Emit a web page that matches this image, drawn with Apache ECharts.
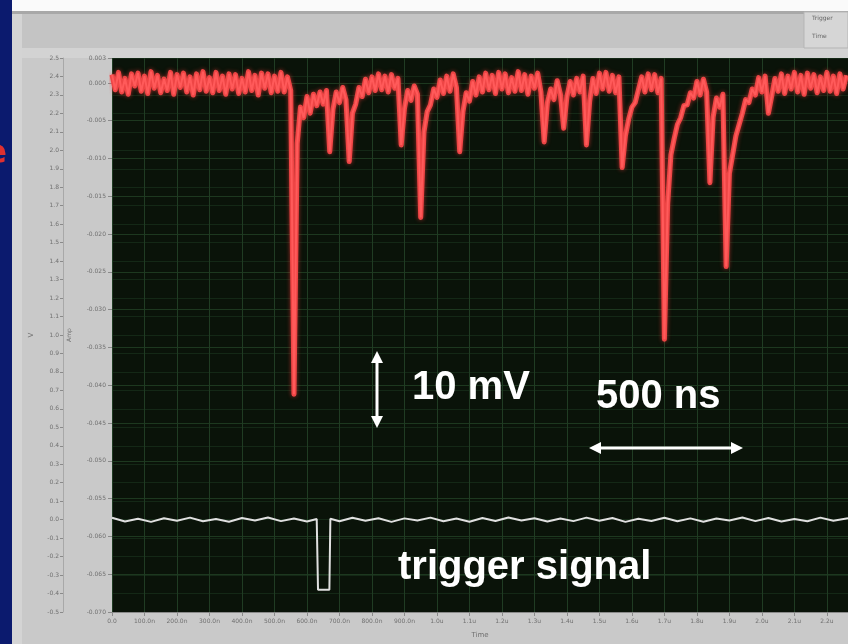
<!DOCTYPE html>
<html>
<head>
<meta charset="utf-8">
<script src="https://cdn.jsdelivr.net/npm/echarts@6/dist/echarts.min.js"></script>
<style>
html,body{margin:0;padding:0;background:#c9c9c9;}
#chart{width:848px;height:644px;}
</style>
</head>
<body>
<div id="chart"></div>
<script>
// ---- data ----
// sample spacing of the red (detector) trace, in ns
const SAMPLE_NS = 10;
// detector signal, mV, one value every SAMPLE_NS starting at 0 ns
const signalMv = [
  1.1, -0.9, 1.4, -1.2, 0.6, -1.5, 1.2, -0.4, 1.3, -1.1,
  0.9, -1.4, 1.5, -0.7, 1.0, -1.3, 0.5, -1.0, 1.4, -1.5,
  1.1, -0.6, 1.3, -1.2, 0.8, -1.6, 1.2, -0.9, 1.5, -1.1,
  0.7, -1.3, 1.4, -1.0, 0.9, -1.5, 1.2, -0.8, 1.1, -1.4,
  0.6, -1.2, 1.5, -1.0, 1.0, -1.6, 1.3, -0.7, 1.2, -1.3,
  0.9, -1.1, 1.4, -1.2, 0.8, -1.0, -41.2, -8.0, -3.2, -4.6,
  -1.8, -4.0, -1.5, -3.0, -1.2, -2.8, -1.0, -9.1, -3.5, -1.2,
  -2.6, -0.6, -2.2, -10.4, -4.0, -2.8, -0.6, -1.8, 0.5, -1.3,
  0.8, -1.0, 1.2, -0.9, 0.9, -1.2, 1.1, -0.7, 0.6, -8.2,
  -3.4, -1.0, -2.3, -0.4, -1.5, -17.8, -6.5, -3.8, -2.9, -0.8,
  -1.9, 0.4, -1.4, 0.9, -1.1, 1.2, -0.6, -9.1, -3.8, -1.3,
  -2.4, 0.2, -1.6, 0.8, -1.2, 1.3, -0.9, 1.0, -1.4, 1.4,
  -0.8, 1.2, -1.3, 0.7, -1.1, 1.5, -1.0, 1.1, -1.5, 0.9,
  -0.7, 1.3, -1.2, -7.8, -2.6, -0.8, -2.2, 0.3, -1.5, -6.0,
  -1.8, 0.2, -1.6, 0.6, -1.2, 0.9, -8.2, -2.4, 0.6, -1.4,
  1.3, -0.8, 1.4, -1.1, 1.0, -1.3, 0.8, -11.2, -7.0, -4.8,
  -3.2, -2.6, -0.9, 0.8, -1.2, 1.2, -0.9, 1.1, -1.3, 0.6,
  -33.9, -16.0, -9.5, -7.4, -5.5, -4.6, -3.0, -2.9, -1.3, -2.0,
  0.2, -1.6, 0.5, -1.2, -13.2, -4.5, -2.0, -3.2, -1.5, -24.3,
  -12.0, -9.5, -7.0, -5.5, -4.0, -2.2, -2.6, -0.8, -1.6, 0.7,
  -1.2, 0.9, -4.0, -1.8, 0.6, -1.1, 1.2, -1.4, 0.9, -0.8,
  1.4, -1.2, 1.0, -1.5, 1.3, -0.7, 1.1, -1.3, 0.8, -1.0,
  1.4, -1.1, 0.9, -1.4, 1.2, -0.8, 1.0
];
// trigger signal (left outer scale units)
const triggerNs = [0,40,80,120,160,200,240,280,320,360,400,440,480,520,560,600,
  630,634,669,672,700,740,780,820,860,900,940,980,1020,1060,1100,1140,1180,1220,
  1260,1300,1340,1380,1420,1460,1500,1540,1580,1620,1660,1700,1740,1780,1820,1860,
  1900,1940,1980,2020,2060,2100,2140,2180,2220,2265];
const triggerVal = [0.01,-0.01,0.005,-0.012,0.008,-0.006,0.011,-0.009,0.004,-0.011,
  0.009,-0.005,0.012,-0.008,0.006,-0.01,0.004,-0.38,-0.38,0.005,-0.009,0.01,-0.006,
  0.008,-0.012,0.007,-0.004,0.011,-0.009,0.006,-0.011,0.009,-0.007,0.012,-0.005,
  0.008,-0.01,0.006,-0.008,0.011,-0.006,0.009,-0.012,0.005,-0.007,0.01,-0.009,0.007,
  -0.011,0.006,-0.005,0.012,-0.008,0.009,-0.01,0.004,-0.009,0.011,-0.006,0.008];
// axis ranges
const timeMinNs = 0, timeMaxNs = 2265, timeStepNs = 100;
const ampMinMv = -70, ampMaxMv = 3.3, ampStepMv = 5;
const trigMin = -0.5, trigMax = 2.5, trigStep = 0.1;
const annotations = { amp: '10 mV', time: '500 ns', trig: 'trigger signal' };

// ---- build ----
const signalData = signalMv.map((v, i) => [i * SAMPLE_NS, v]);
const triggerData = triggerNs.map((t, i) => [t, triggerVal[i]]);

function timeLabel(v) {
  if (v === 0) return '0.0';
  if (v < 1000) return v.toFixed(1) + 'n';
  return (v / 1000).toFixed(1) + 'u';
}

const chart = echarts.init(document.getElementById('chart'), null, { renderer: 'canvas' });
const lblColor = '#707070';
const option = {
  animation: false,
  backgroundColor: '#c9c9c9',
  grid: { left: 112, right: 0, top: 58, bottom: 31, show: true, backgroundColor: '#0a1309', borderWidth: 0 },
  xAxis: {
    type: 'value', min: timeMinNs, max: timeMaxNs, interval: timeStepNs,
    name: 'Time', nameLocation: 'middle', nameGap: 20,
    nameTextStyle: { fontSize: 7, color: lblColor, fontFamily: 'DejaVu Sans' },
    axisLine: { onZero: false, lineStyle: { color: '#8a8a8a' } },
    axisTick: { length: 4, lineStyle: { color: '#8a8a8a' } },
    axisLabel: { fontSize: 6, color: lblColor, margin: 6, formatter: timeLabel, showMaxLabel: false, fontFamily: 'DejaVu Sans' },
    splitLine: { show: true, lineStyle: { color: '#203c23', width: 1 } }
  },
  yAxis: [
    {
      type: 'value', min: ampMinMv, max: ampMaxMv, interval: ampStepMv, position: 'left',
      name: 'Amp', nameLocation: 'middle', nameGap: 40, nameRotate: 90,
      nameTextStyle: { fontSize: 6, color: lblColor, fontFamily: 'DejaVu Sans' },
      axisLine: { show: false, onZero: false },
      axisTick: { show: true, length: 4, lineStyle: { color: '#8a8a8a' } },
      axisLabel: { fontSize: 6, color: lblColor, margin: 6, fontFamily: 'DejaVu Sans',
        formatter: v => (Math.abs(v) < 1e-9 ? '0.000' : (v / 1000).toFixed(3)) },
      splitLine: { show: true, lineStyle: { color: '#1d381f', width: 1 } }
    },
    {
      type: 'value', min: trigMin, max: trigMax, interval: trigStep, position: 'left', offset: 49,
      name: 'V', nameLocation: 'middle', nameGap: 28, nameRotate: 90,
      nameTextStyle: { fontSize: 7, color: lblColor, fontFamily: 'DejaVu Sans' },
      axisLine: { show: true, onZero: false, lineStyle: { color: '#a8a8a8' } },
      axisTick: { show: true, length: 3, lineStyle: { color: '#8a8a8a' } },
      axisLabel: { fontSize: 6, color: lblColor, margin: 4, fontFamily: 'DejaVu Sans',
        formatter: v => (Math.abs(v) < 1e-9 ? '0.0' : v.toFixed(1)) },
      splitLine: { show: true, lineStyle: { color: '#142816', width: 1 } }
    }
  ],
  series: [
    { type: 'line', data: signalData, yAxisIndex: 0, symbol: 'none', z: 3,
      lineStyle: { color: '#ee4545', width: 5, join: 'round', shadowColor: 'rgba(255,60,60,0.6)', shadowBlur: 4 } },
    { type: 'line', data: signalData, yAxisIndex: 0, symbol: 'none', z: 4,
      lineStyle: { color: '#ff5a5a', width: 2 } },
    { type: 'line', data: triggerData, yAxisIndex: 1, symbol: 'none', z: 4,
      lineStyle: { color: '#e0e0e0', width: 2 } }
  ],
  graphic: [
    { type: 'rect', z: 0, shape: { x: 0, y: 0, width: 848, height: 11 }, style: { fill: '#fafafa' } },
    { type: 'rect', z: 0, shape: { x: 0, y: 11, width: 848, height: 3 }, style: { fill: '#a8a8a8' } },
    { type: 'rect', z: 0, shape: { x: 0, y: 14, width: 848, height: 34 }, style: { fill: '#c4c4c4' } },
    { type: 'rect', z: 0, shape: { x: 0, y: 48, width: 848, height: 10 }, style: { fill: '#d3d3d3' } },
    { type: 'rect', z: 0, shape: { x: 804, y: 12, width: 44, height: 36 }, style: { fill: '#d6d6d6', stroke: '#b5b5b5' } },
    { type: 'text', z: 1, left: 812, top: 15, style: { text: 'Trigger', fontSize: 6, fill: '#666', fontFamily: 'DejaVu Sans' } },
    { type: 'text', z: 1, left: 812, top: 33, style: { text: 'Time', fontSize: 6, fill: '#666', fontFamily: 'DejaVu Sans' } },
    { type: 'rect', z: 1, shape: { x: 12, y: 14, width: 10, height: 630 }, style: { fill: '#d4d4d4' } },
    { type: 'rect', z: 2, shape: { x: 0, y: 0, width: 12, height: 644 }, style: { fill: '#0b1a6e' } },
    { type: 'text', z: 3, x: -16, y: 137, style: { text: 'e', fontSize: 34, fill: '#e03030', fontFamily: 'DejaVu Sans', fontWeight: 'bold' } },
    // 10 mV arrow
    { type: 'line', z: 50, shape: { x1: 377, y1: 360, x2: 377, y2: 420 }, style: { stroke: '#ffffff', lineWidth: 3 } },
    { type: 'polygon', z: 50, shape: { points: [[377, 351], [371, 363], [383, 363]] }, style: { fill: '#ffffff' } },
    { type: 'polygon', z: 50, shape: { points: [[377, 428], [371, 416], [383, 416]] }, style: { fill: '#ffffff' } },
    // 500 ns arrow
    { type: 'line', z: 50, shape: { x1: 598, y1: 448, x2: 734, y2: 448 }, style: { stroke: '#ffffff', lineWidth: 3 } },
    { type: 'polygon', z: 50, shape: { points: [[589, 448], [601, 442], [601, 454]] }, style: { fill: '#ffffff' } },
    { type: 'polygon', z: 50, shape: { points: [[743, 448], [731, 442], [731, 454]] }, style: { fill: '#ffffff' } },
    { type: 'text', z: 50, x: 412, y: 388, style: { text: annotations.amp, fontSize: 40, fontWeight: 'bold', fill: '#ffffff', fontFamily: 'Liberation Sans', textVerticalAlign: 'middle' } },
    { type: 'text', z: 50, x: 596, y: 397, style: { text: annotations.time, fontSize: 40, fontWeight: 'bold', fill: '#ffffff', fontFamily: 'Liberation Sans', textVerticalAlign: 'middle' } },
    { type: 'text', z: 50, x: 398, y: 568, style: { text: annotations.trig, fontSize: 40, fontWeight: 'bold', fill: '#ffffff', fontFamily: 'Liberation Sans', textVerticalAlign: 'middle' } }
  ]
};
chart.setOption(option);
</script>
</body>
</html>
